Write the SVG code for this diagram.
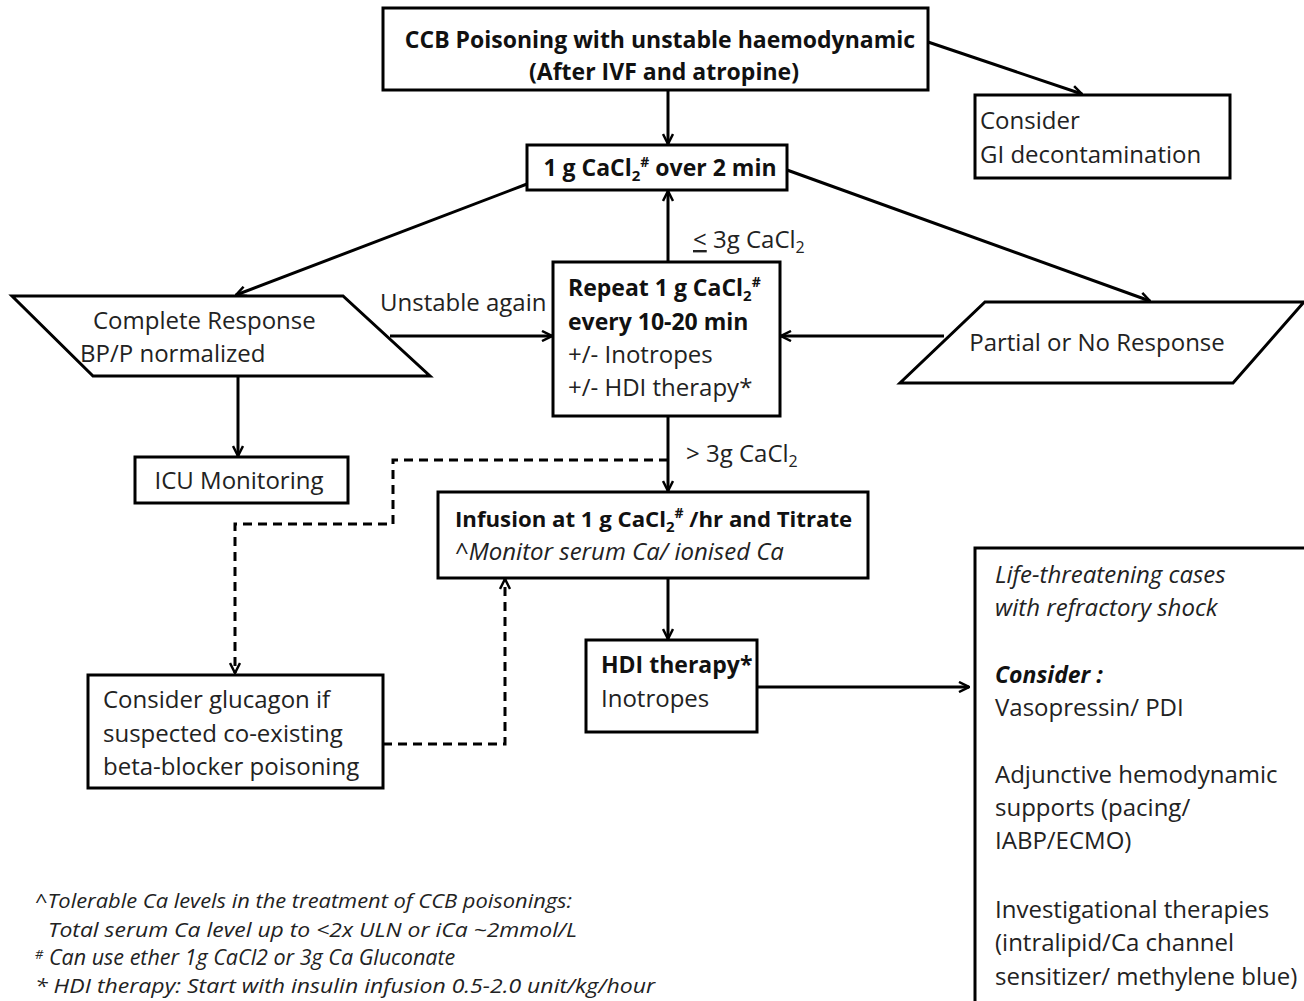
<svg xmlns="http://www.w3.org/2000/svg" width="1304" height="1001" viewBox="0 0 1304 1001">
<style>
.box{fill:#fff;stroke:#000;stroke-width:3}
.t{font-family:"Open Sans",Lato,sans-serif;font-size:24px;fill:#222}
.b{font-weight:bold;font-size:23px;fill:#111}
.i{font-style:italic}
.fn{font-family:"Open Sans",Lato,sans-serif;font-size:20.5px;font-style:italic;fill:#222}
.c{fill:none;stroke:#000;stroke-width:3}
.d{fill:none;stroke:#000;stroke-width:3;stroke-dasharray:9,6}
</style>
<defs>
<marker id="a" viewBox="0 0 12 12" refX="11" refY="6" markerWidth="12" markerHeight="12" markerUnits="userSpaceOnUse" orient="auto">
<path d="M1,1 L11,6 L1,11" fill="none" stroke="#000" stroke-width="2.5"/>
</marker>
</defs>
<rect width="1304" height="1001" fill="#fff"/>
<g id="connectors">
<line class="c" x1="668" y1="90" x2="668" y2="144" marker-end="url(#a)"/>
<line class="c" x1="928" y1="42" x2="1082" y2="94" marker-end="url(#a)"/>
<line class="c" x1="527" y1="184" x2="236" y2="295" marker-end="url(#a)"/>
<line class="c" x1="787" y1="170" x2="1150" y2="301" marker-end="url(#a)"/>
<line class="c" x1="668" y1="262" x2="668" y2="191" marker-end="url(#a)"/>
<line class="c" x1="390" y1="336" x2="552" y2="336" marker-end="url(#a)"/>
<line class="c" x1="944" y1="336" x2="781" y2="336" marker-end="url(#a)"/>
<line class="c" x1="238" y1="375" x2="238" y2="456" marker-end="url(#a)"/>
<line class="c" x1="668" y1="416" x2="668" y2="491" marker-end="url(#a)"/>
<line class="c" x1="668" y1="578" x2="668" y2="639" marker-end="url(#a)"/>
<line class="c" x1="757" y1="687" x2="969" y2="687" marker-end="url(#a)"/>
<polyline class="d" points="668,460 393,460 393,524 235,524 235,673" marker-end="url(#a)"/>
<polyline class="d" points="383,744 505,744 505,579" marker-end="url(#a)"/>
<text class="t" x="380" y="311">Unstable again</text>
<text class="t" x="693" y="248"><tspan text-decoration="underline">&lt;</tspan>  3g CaCl<tspan font-size="16" dy="5">2</tspan></text>
<text class="t" x="686" y="462">&gt; 3g CaCl<tspan font-size="16" dy="5">2</tspan></text>
</g>
<g id="n-top">
<rect class="box" x="383" y="8" width="545" height="82"/>
<text class="t b" x="660" y="48" text-anchor="middle">CCB Poisoning with unstable haemodynamic</text>
<text class="t b" x="664" y="80" text-anchor="middle">(After IVF and atropine)</text>
</g>
<g id="n-gi">
<rect class="box" x="975" y="95" width="255" height="83"/>
<text class="t" x="980" y="129">Consider</text>
<text class="t" x="980" y="163">GI decontamination</text>
</g>
<g id="n-cacl">
<rect class="box" x="527" y="145" width="260" height="45"/>
<text class="t b" x="660" y="176" text-anchor="middle">1 g CaCl<tspan font-size="15" dy="5">2</tspan><tspan font-size="14" dy="-14">#</tspan><tspan dy="9"> over 2 min</tspan></text>
</g>
<g id="n-repeat">
<rect class="box" x="553" y="262" width="227" height="154"/>
<text class="t b" x="568" y="296">Repeat 1 g CaCl<tspan font-size="15" dy="5">2</tspan><tspan font-size="14" dy="-14">#</tspan></text>
<text class="t b" x="568" y="330">every 10-20 min</text>
<text class="t" x="568" y="363">+/- Inotropes</text>
<text class="t" x="568" y="396">+/- HDI therapy*</text>
</g>
<g id="n-complete">
<polygon class="box" points="12,296 343,296 430,376 93,376"/>
<text class="t" x="93" y="329">Complete Response</text>
<text class="t" x="80" y="362">BP/P normalized</text>
</g>
<g id="n-partial">
<polygon class="box" points="985,302 1304,302 1233,383 900,383"/>
<text class="t" x="1097" y="351" text-anchor="middle">Partial or No Response</text>
</g>
<g id="n-icu">
<rect class="box" x="135" y="457" width="213" height="46"/>
<text class="t" x="239" y="489" text-anchor="middle">ICU Monitoring</text>
</g>
<g id="n-infusion">
<rect class="box" x="438" y="492" width="430" height="86"/>
<text class="t b" x="455" y="527" style="font-size:22.2px">Infusion at 1 g CaCl<tspan font-size="15" dy="5">2</tspan><tspan font-size="14" dy="-14">#</tspan><tspan dy="9"> /hr and Titrate</tspan></text>
<text class="t i" x="455" y="560">^Monitor serum Ca/ ionised Ca</text>
</g>
<g id="n-glucagon">
<rect class="box" x="88" y="675" width="295" height="113"/>
<text class="t" x="103" y="708">Consider glucagon if</text>
<text class="t" x="103" y="742">suspected co-existing</text>
<text class="t" x="103" y="775">beta-blocker poisoning</text>
</g>
<g id="n-hdi">
<rect class="box" x="586" y="640" width="171" height="92"/>
<text class="t b" x="601" y="673">HDI therapy*</text>
<text class="t" x="601" y="707">Inotropes</text>
</g>
<g id="n-life">
<rect class="box" x="975" y="548" width="340" height="460"/>
<text class="t i" x="995" y="583">Life-threatening cases</text>
<text class="t i" x="995" y="616">with refractory shock</text>
<text class="t b i" x="995" y="683">Consider :</text>
<text class="t" x="995" y="716">Vasopressin/ PDI</text>
<text class="t" x="995" y="783">Adjunctive hemodynamic</text>
<text class="t" x="995" y="816">supports (pacing/</text>
<text class="t" x="995" y="849">IABP/ECMO)</text>
<text class="t" x="995" y="918">Investigational therapies</text>
<text class="t" x="995" y="951">(intralipid/Ca channel</text>
<text class="t" x="995" y="985">sensitizer/ methylene blue)</text>
</g>
<g id="footnotes">
<text class="fn" x="35" y="908" textLength="537" lengthAdjust="spacingAndGlyphs">^Tolerable Ca levels in the treatment of CCB poisonings:</text>
<text class="fn" x="48" y="937" textLength="529" lengthAdjust="spacingAndGlyphs">Total serum Ca level up to &lt;2x ULN  or iCa ~2mmol/L</text>
<text class="fn" x="35" y="965" style="font-size:21.5px"><tspan font-size="13" dy="-6">#</tspan><tspan dy="6"> Can use ether 1g CaCl2 or 3g Ca Gluconate</tspan></text>
<text class="fn" x="35" y="993" textLength="620" lengthAdjust="spacingAndGlyphs">* HDI therapy: Start with insulin infusion 0.5-2.0 unit/kg/hour</text>
</g>
</svg>
